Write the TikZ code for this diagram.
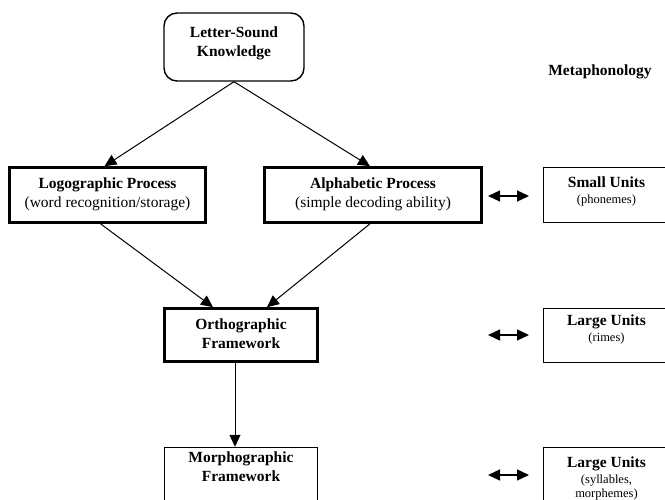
\documentclass[tikz,border=0pt]{standalone}
\usepackage{fontspec}
\setmainfont{Liberation Serif}
\usetikzlibrary{arrows.meta}
\begin{document}
\begin{tikzpicture}[x=1pt,y=-1pt,
  thickbox/.style={draw, rectangle, line width=2.6pt, inner sep=0pt},
  thinbox/.style={draw, rectangle, line width=1.4pt, inner sep=0pt},
  txt/.style={align=center, inner sep=0pt, font=\fontsize{15.5}{19}\selectfont},
  conn/.style={line width=1pt, -{Triangle[length=12pt,width=11pt]}},
  dbl/.style={line width=1.3pt, {Triangle[length=12pt,width=11pt]}-{Triangle[length=12pt,width=11pt]}}
]
\useasboundingbox (0,0) rectangle (665,500);
% boxes
\node[thinbox, rounded corners=13pt, minimum width=140pt, minimum height=68pt] (top) at (234,47) {};
\node[thickbox, minimum width=196pt, minimum height=55pt] (logo) at (107.5,195) {};
\node[thickbox, minimum width=217pt, minimum height=55pt] (alpha) at (373,195) {};
\node[thickbox, minimum width=153pt, minimum height=53pt] (ortho) at (241,335) {};
\node[thinbox, minimum width=153pt, minimum height=55pt] (morph) at (241,475) {};
\node[thinbox, minimum width=126pt, minimum height=55pt] (smallu) at (606.5,195) {};
\node[thinbox, minimum width=126pt, minimum height=54pt] (rimes) at (606.5,335.5) {};
\node[thinbox, minimum width=126pt, minimum height=55pt] (syll) at (606.5,475) {};
% texts
\node[txt] (ttop) at (234,43) {\textbf{Letter-Sound}\\\textbf{Knowledge}};
\node[txt] (tlogo) at (107.5,194) {\textbf{Logographic Process}\\(word recognition/storage)};
\node[txt] (talpha) at (373,194) {\textbf{Alphabetic Process}\\(simple decoding ability)};
\node[txt] (tortho) at (241,333.5) {\textbf{Orthographic}\\\textbf{Framework}};
\node[txt] (tmorph) at (241,467) {\textbf{Morphographic}\\\textbf{Framework}};
\node[txt] (tmeta) at (600,72) {\textbf{Metaphonology}};
\node[txt] (tsmall) at (606.5,191) {\textbf{Small Units}\\[-3pt]\fontsize{12.5}{13}\selectfont (phonemes)};
\node[txt] (trimes) at (606.5,329) {\textbf{Large Units}\\[-3pt]\fontsize{12.5}{13}\selectfont (rimes)};
\node[txt] (tsyll) at (606.5,478) {\textbf{Large Units}\\[-3pt]\fontsize{12.5}{13}\selectfont (syllables,\\[-5pt]\fontsize{12.5}{13}\selectfont morphemes)};
% connectors
\draw[conn] (top.south) -- ([xshift=-3pt]logo.north);
\draw[conn] (top.south) -- ([xshift=-3pt]alpha.north);
\draw[conn] ([xshift=-7pt]logo.south) -- ([xshift=-28pt]ortho.north);
\draw[conn] ([xshift=-3pt]alpha.south) -- ([xshift=26pt]ortho.north);
\draw[conn] ([xshift=-6pt]ortho.south) -- ([xshift=-6pt]morph.north);
% double arrows
\coordinate (a1) at (488,196); \coordinate (b1) at (529,196);
\coordinate (a2) at (488,335); \coordinate (b2) at (529,335);
\coordinate (a3) at (488,475); \coordinate (b3) at (529,475);
\draw[dbl] (a1) -- (b1);
\draw[dbl] (a2) -- (b2);
\draw[dbl] (a3) -- (b3);
\end{tikzpicture}
\end{document}
